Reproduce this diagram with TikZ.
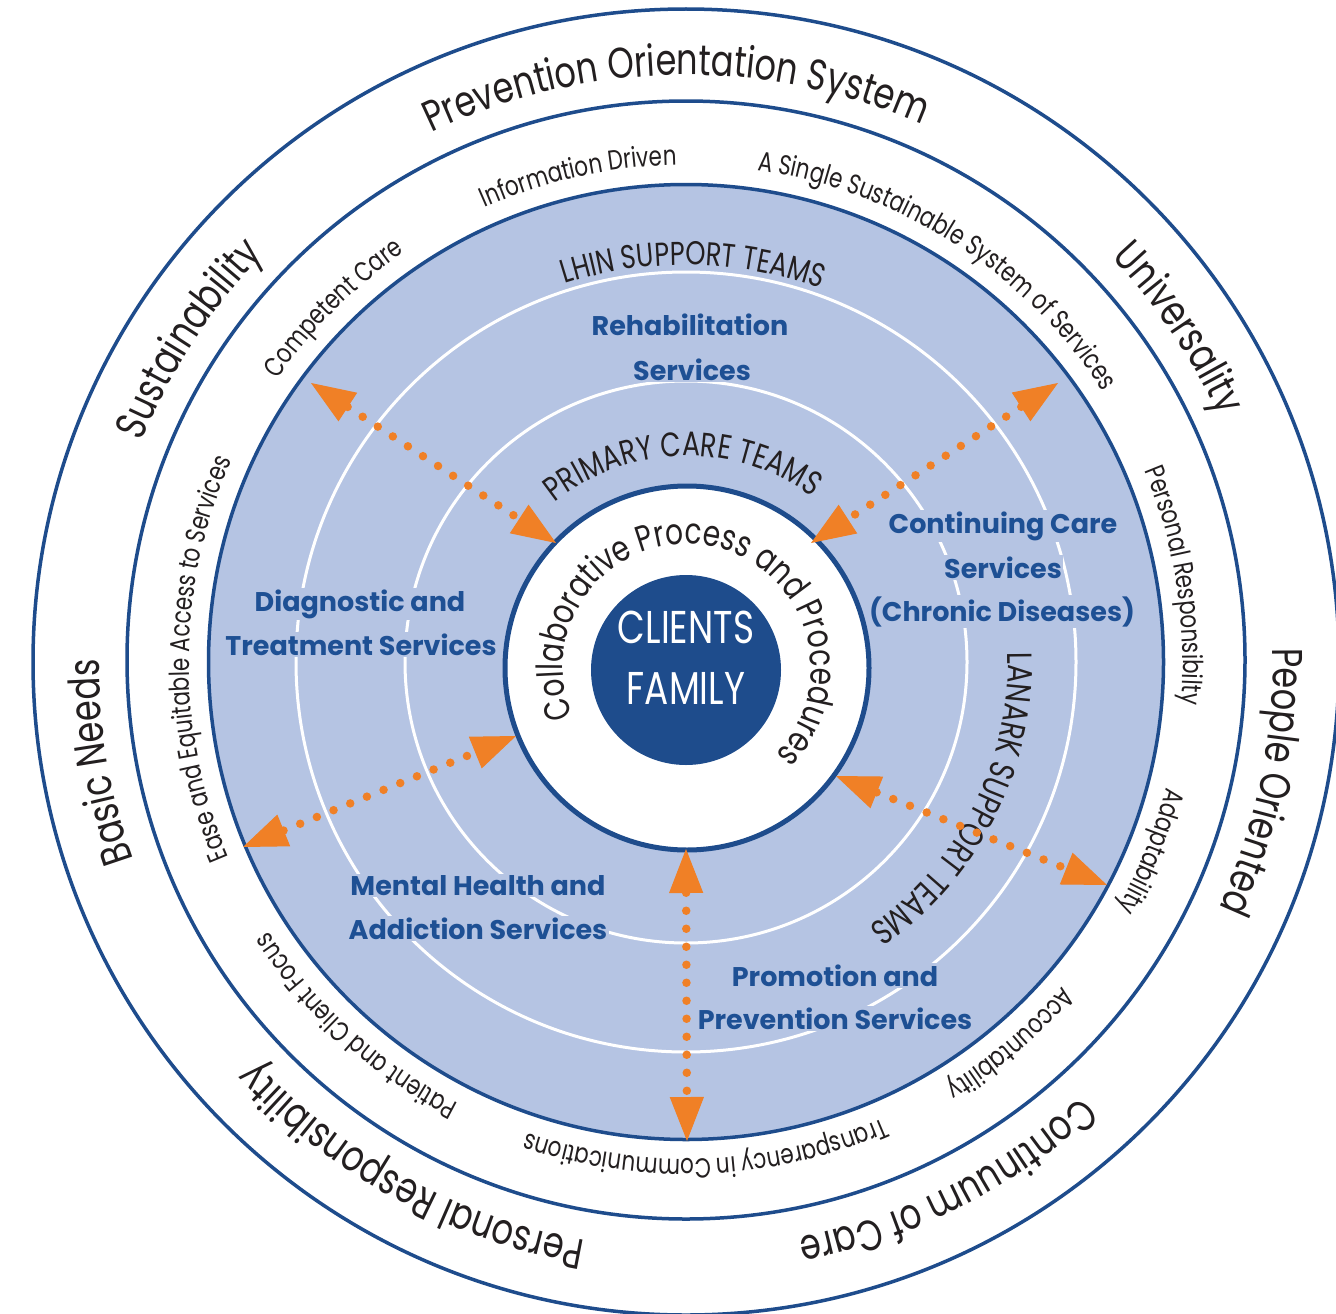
\documentclass[tikz,border=0pt]{standalone}
\usepackage{fontspec}
\setmainfont{Poppins}
\newfontfamily\nf{Poppins}[FakeStretch=0.78]
\usetikzlibrary{decorations.text,arrows.meta}
\definecolor{navy}{RGB}{30,76,140}
\definecolor{bluedisc}{RGB}{181,196,227}
\definecolor{bluetext}{RGB}{30,80,148}
\definecolor{arrowor}{RGB}{240,128,38}
\definecolor{ink}{RGB}{35,31,32}
\newcommand\szf[1]{\nf\fontsize{#1}{#1}\selectfont}
% #1 centre, #2 baseline radius, #3 centre angle, #4 half span, #5 font, #6 text
\newcommand\ringtxt[6]{%
  \path[decorate,decoration={text along path,text align=center,text={|\color{ink}#5|#6}}]
    (#1) ++({#3+#4}:#2pt) arc[start angle={#3+#4},end angle={#3-#4},radius=#2pt];}
\tikzset{
  ring/.style={circle,draw=navy,line width=3.5pt,inner sep=0pt},
  svc/.style={font=\bfseries\fontsize{27}{27}\selectfont,text=bluetext,fill=bluedisc,inner sep=1.5pt,anchor=base},
  core/.style={font=\szf{46},text=white,anchor=base},
  dotarrow/.style={draw=arrowor,line width=8.5pt,line cap=round,dash pattern=on 0pt off 18pt,
    arrows={Triangle[length=44pt,width=34pt,line width=1pt]-Triangle[length=44pt,width=34pt,line width=1pt]}}
}
\begin{document}
\begin{tikzpicture}[x=1pt,y=1pt]
\useasboundingbox (0,-1314) rectangle (1336,0);
\fill[white] (0,-1314) rectangle (1336,0);
\coordinate (C) at (686,-662);
\coordinate (C2) at (687,-668);
% rings
\node[ring,minimum size=1306pt] (outer) at (686,-662) {};
\node[ring,minimum size=1118pt] (second) at (686,-660) {};
\node[ring,fill=bluedisc,minimum size=955pt] (blue) at (C) {};
\draw[white,line width=3pt] (C) circle[radius=390pt];
\draw[white,line width=3pt] (C) circle[radius=281pt];
\node[circle,draw=navy,line width=5pt,fill=white,minimum size=364pt,inner sep=0pt] (hub) at (C2) {};
\node[circle,fill=navy,minimum size=190pt,inner sep=0pt] (coredisc) at (686,-670) {};
\node[core] (clients) at (686,-643) {CLIENTS};
\node[core] (family) at (686,-704) {FAMILY};
% outer ring texts
\ringtxt{C}{587}{91}{40}{\szf{43}}{Prevention Orientation System}
\ringtxt{C}{587}{34.1}{40}{\szf{43}}{Universality}
\ringtxt{C}{587}{-11.7}{40}{\szf{43}}{People Oriented}
\ringtxt{C}{587}{-63.3}{40}{\szf{43}}{Continuum of Care}
\ringtxt{C}{587}{241.5}{40}{\szf{43}}{Personal Responsibility}
\ringtxt{C}{587}{189.7}{40}{\szf{43}}{Basic Needs}
\ringtxt{C}{587}{147}{40}{\szf{43}}{Sustainability}
% inner ring texts
\ringtxt{C}{497}{102.5}{40}{\szf{27.5}}{Information Driven}
\ringtxt{C}{497}{57.4}{40}{\szf{27.5}}{A Single Sustainable System of Services}
\ringtxt{C}{497}{134.9}{30}{\szf{27.5}}{Competent Care}
\ringtxt{C}{497}{179.6}{40}{\szf{27.5}}{Ease and Equitable Access to Services}
\ringtxt{C}{497}{8.9}{30}{\szf{27.5}}{Personal Responsibilty}
\ringtxt{C}{497}{-22.2}{20}{\szf{27.5}}{Adaptability}
\ringtxt{C}{497}{-49.6}{20}{\szf{27.5}}{Accountability}
\ringtxt{C}{497}{-87.6}{40}{\szf{27.5}}{Transparency in Communications}
\ringtxt{C}{497}{227.8}{30}{\szf{27.5}}{Patient and Client Focus}
% team labels
\ringtxt{C}{397}{89}{40}{\szf{33}}{LHIN SUPPORT TEAMS}
\ringtxt{C2}{212}{91.2}{70}{\szf{34}}{PRIMARY CARE TEAMS}
\ringtxt{C}{322}{-26.9}{50}{\szf{35}}{LANARK SUPPORT TEAMS}
\ringtxt{C2}{124}{79.2}{150}{\szf{36}}{Collaborative Process and Procedures}
% services
\node[svc] (reh1) at (690,-335) {Rehabilitation};
\node[svc] (reh2) at (692,-380) {Services};
\node[svc] (cc1) at (1003,-533) {Continuing Care};
\node[svc] (cc2) at (1003,-578) {Services};
\node[svc] (cc3) at (1002,-621) {(Chronic Diseases)};
\node[svc] (dt1) at (360,-611) {Diagnostic and};
\node[svc] (dt2) at (361,-655) {Treatment Services};
\node[svc] (mh1) at (478,-895) {Mental Health and};
\node[svc] (mh2) at (478,-939) {Addiction Services};
\node[svc] (pp1) at (835,-986) {Promotion and};
\node[svc] (pp2) at (835,-1029) {Prevention Services};
% arrows
\coordinate (a1o) at (311,-383); \coordinate (a1i) at (556,-543);
\coordinate (a2o) at (1058,-383); \coordinate (a2i) at (811,-543);
\coordinate (a3o) at (243,-847); \coordinate (a3i) at (516,-736);
\coordinate (a4o) at (1107,-885); \coordinate (a4i) at (836,-776);
\coordinate (a5o) at (687,-1141); \coordinate (a5i) at (686,-849);
\draw[dotarrow] (a1o) -- (a1i);
\draw[dotarrow] (a2o) -- (a2i);
\draw[dotarrow] (a3o) -- (a3i);
\draw[dotarrow] (a4i) -- (a4o);
\draw[dotarrow] (a5i) -- (a5o);
\end{tikzpicture}
\end{document}
